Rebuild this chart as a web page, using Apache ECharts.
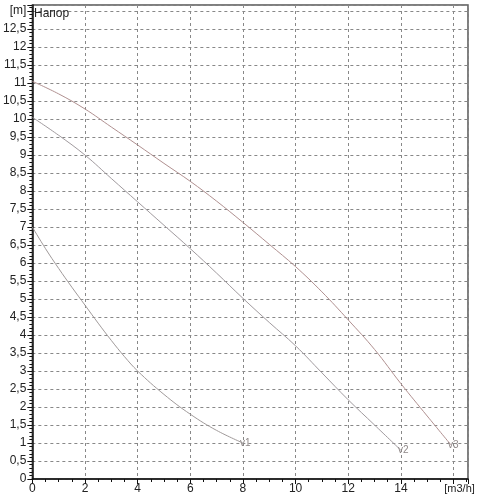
<!DOCTYPE html>
<html><head><meta charset="utf-8">
<script src="https://cdn.jsdelivr.net/npm/echarts@6/dist/echarts.min.js"></script>
<style>html,body{margin:0;padding:0;background:#fff}#c{width:478px;height:500px}</style>
</head><body><div id="c"></div>
<script>
var curve1X = [0, 0.5, 1, 1.5, 2, 2.5, 3, 3.5, 4, 5, 6, 7, 8];
var curve1Y = [7.0, 6.4, 5.85, 5.33, 4.83, 4.33, 3.85, 3.4, 3.0, 2.35, 1.8, 1.35, 1.0];
var curve2X = [0, 1, 2, 3, 4, 5, 6, 7, 8, 9, 10, 11, 12, 13, 14];
var curve2Y = [10.05, 9.55, 9.0, 8.35, 7.7, 7.05, 6.4, 5.72, 5.02, 4.35, 3.7, 2.95, 2.2, 1.5, 0.8];
var curve3X = [0, 1, 2, 3, 4, 5, 6, 7, 8, 9, 10, 11, 12, 13, 14, 15, 15.9];
var curve3Y = [11.05, 10.7, 10.28, 9.78, 9.28, 8.77, 8.27, 7.72, 7.13, 6.52, 5.9, 5.2, 4.42, 3.6, 2.65, 1.75, 0.95];
var curveNames = ['v1', 'v2', 'v3'];
var yAxisUnit = '[m]';
var xAxisUnit = '[m3/h]';
var chartTitle = 'Напор';

function build(xs, ys, name, color) {
  var d = xs.map(function (x, i) { return [x, ys[i]]; });
  return {
    type: 'line', name: name, data: d, smooth: 0.4, showSymbol: false, symbol: 'none',
    lineStyle: { color: color, width: 1 }, silent: true, animation: false,
    endLabel: { show: true, formatter: name, distance: -3, color: '#8f8888', fontSize: 10, fontFamily: 'Liberation Sans' }
  };
}

var chart = echarts.init(document.getElementById('c'));
chart.setOption({
  backgroundColor: '#fff',
  animation: false,
  title: { text: chartTitle, left: 29, top: 3, textStyle: { fontSize: 12, fontWeight: 'normal', color: '#222', fontFamily: 'Liberation Sans' } },
  grid: { left: 30.5, right: 10, top: 5, bottom: 21, show: true, borderColor: '#555', borderWidth: 1.5, backgroundColor: 'transparent' },
  xAxis: {
    type: 'value', min: 0, max: 16.55, interval: 2,
    axisLine: { show: true, onZero: false, lineStyle: { color: '#111', width: 1.5 } },
    axisTick: { show: true, length: 5, lineStyle: { color: '#111' } },
    minorTick: { show: true, splitNumber: 4, length: 3, lineStyle: { color: '#111' } },
    axisLabel: {
      color: '#222', fontSize: 12, fontFamily: 'Liberation Sans', margin: 4,
      formatter: function (v) { if (Math.abs(v - 16) < 1e-6) return '{u|' + xAxisUnit + '}'; if (Math.abs(v % 2) > 1e-6) return ''; return String(v); },
      rich: { u: { fontSize: 11, fontFamily: 'Liberation Sans', color: '#222', padding: [0, 0, 0, 12] } }
    },
    splitLine: { show: true, lineStyle: { color: '#888', type: [3, 3], width: 1 } }
  },
  yAxis: {
    type: 'value', min: 0, max: 13.17, interval: 0.5,
    axisLine: { show: true, onZero: false, lineStyle: { color: '#111', width: 1.5 } },
    axisTick: { show: true, length: 5, lineStyle: { color: '#111' } },
    minorTick: { show: true, splitNumber: 5, length: 3, lineStyle: { color: '#111' } },
    axisLabel: {
      color: '#222', fontSize: 12, fontFamily: 'Liberation Sans', margin: 6,
      formatter: function (v) {
        if (Math.abs(v - 13) < 1e-6) return yAxisUnit;
        if (Math.abs((v * 2) - Math.round(v * 2)) > 1e-6) return '';
        return String(v).replace('.', ',');
      }
    },
    splitLine: { show: true, lineStyle: { color: '#888', type: [3, 3], width: 1 } }
  },
  series: [
    build(curve1X, curve1Y, curveNames[0], '#a09a9a'),
    build(curve2X, curve2Y, curveNames[1], '#a09a9e'),
    build(curve3X, curve3Y, curveNames[2], '#b09090')
  ]
});
</script></body></html>
